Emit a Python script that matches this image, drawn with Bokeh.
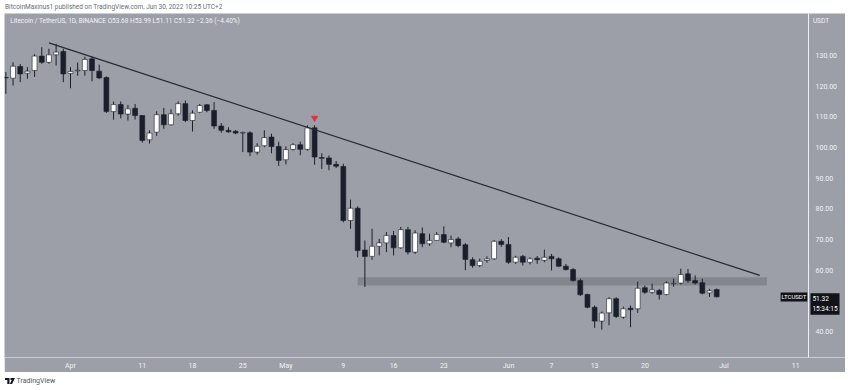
import pandas as pd
from bokeh.plotting import figure
from bokeh.models import ColumnDataSource, FixedTicker, NumeralTickFormatter, Label, Div, Range1d, Span
from bokeh.layouts import column
from bokeh.embed import file_html
from bokeh.resources import INLINE

# ---------------- data ----------------
first_day = "2022-03-23"
opens = [122.8, 122.6, 126.4, 124.2, 125.1, 129.8, 127.8, 130.2, 131.3, 124.1,
         125.0, 125.1, 128.9, 124.9, 122.8, 111.7, 114.0, 110.9, 112.8, 110.4,
         102.5, 105.0, 110.7, 107.4, 111.0, 114.3, 108.8, 111.5, 113.9, 112.1,
         107.0, 105.6, 105.3, 104.7, 104.8, 98.5, 100.6, 103.4, 100.3, 96.0,
         99.4, 100.9, 99.4, 106.4, 96.7, 96.6, 94.5, 93.8, 76.2, 80.2,
         66.6, 64.5, 67.8, 68.9, 71.3, 67.3, 73.2, 65.9, 71.9, 68.6,
         69.7, 71.6, 68.9, 70.2, 68.3, 63.4, 61.5, 63.2, 63.7, 69.4,
         68.4, 62.6, 64.5, 62.6, 63.9, 63.2, 64.5, 63.7, 61.3, 60.2,
         56.6, 52.1, 47.9, 43.4, 46.1, 50.7, 44.7, 47.6, 47.4, 54.3,
         52.8, 53.4, 52.1, 55.6, 55.8, 58.8, 56.6, 55.9, 52.6, 53.68]
highs = [124.6, 127.8, 127.2, 126.2, 130.4, 132.7, 132.2, 133.8, 132.2, 126.2,
         127.7, 129.6, 129.6, 127.0, 123.2, 115.0, 115.0, 113.9, 114.2, 110.5,
         105.6, 111.8, 112.9, 112.4, 115.0, 115.3, 112.1, 114.2, 114.2, 114.8,
         108.0, 106.6, 105.7, 105.2, 105.3, 101.4, 105.6, 104.5, 101.9, 100.4,
         101.4, 101.9, 107.2, 107.2, 98.1, 97.4, 95.6, 94.7, 83.0, 80.8,
         69.7, 73.5, 70.2, 72.4, 72.8, 74.1, 74.1, 73.0, 73.9, 71.9,
         72.4, 74.3, 71.3, 70.8, 68.8, 64.2, 63.8, 64.5, 69.8, 70.1,
         70.8, 64.7, 65.0, 64.2, 64.6, 66.7, 65.3, 64.2, 62.0, 60.7,
         57.2, 52.3, 48.5, 46.5, 51.2, 51.2, 48.1, 48.5, 56.3, 55.0,
         55.6, 53.9, 56.3, 57.2, 60.5, 60.4, 58.3, 57.2, 53.9, 53.99]
lows = [117.5, 120.2, 121.3, 122.4, 123.0, 127.3, 127.3, 126.7, 121.3, 119.3,
        123.4, 123.4, 121.6, 122.3, 111.3, 109.1, 109.5, 108.8, 109.1, 101.6,
        101.3, 103.8, 106.1, 107.2, 110.4, 108.3, 105.2, 111.2, 111.5, 106.1,
        104.8, 104.8, 104.3, 98.5, 97.2, 97.7, 100.1, 98.1, 94.0, 94.5,
        99.0, 97.5, 99.0, 94.4, 93.0, 92.6, 93.3, 75.6, 73.5, 64.2,
        54.5, 63.4, 64.8, 65.9, 64.8, 67.0, 65.1, 65.3, 67.5, 68.0,
        69.6, 68.8, 67.5, 67.5, 60.0, 60.8, 61.0, 62.4, 63.4, 67.6,
        62.1, 62.1, 61.5, 61.9, 62.1, 62.6, 59.9, 61.0, 59.9, 56.3,
        51.6, 47.6, 41.2, 40.6, 42.0, 44.4, 44.2, 41.4, 46.1, 52.3,
        52.3, 50.4, 51.8, 54.6, 55.3, 55.9, 55.3, 52.1, 51.3, 51.11]
closes = [122.7, 126.5, 124.0, 124.9, 129.8, 127.8, 130.2, 131.1, 124.0, 124.8,
          125.2, 128.7, 125.1, 122.7, 111.7, 114.0, 110.9, 112.6, 110.4, 102.3,
          104.7, 110.7, 107.4, 111.0, 114.3, 108.8, 111.2, 113.7, 112.1, 107.0,
          105.6, 105.1, 104.7, 104.9, 98.5, 100.4, 103.2, 100.3, 95.8, 99.3,
          100.9, 99.4, 106.4, 96.9, 96.5, 94.5, 93.9, 76.2, 80.2, 66.4,
          64.5, 67.8, 68.9, 71.3, 67.3, 73.2, 65.9, 72.1, 68.6, 69.7,
          71.6, 69.1, 70.0, 68.0, 63.5, 61.5, 62.9, 63.7, 69.4, 68.4,
          62.6, 64.2, 62.6, 63.7, 63.4, 64.2, 63.7, 61.3, 60.2, 56.6,
          52.0, 47.9, 43.4, 46.0, 50.7, 44.9, 47.4, 47.1, 54.1, 52.8,
          53.6, 52.1, 55.8, 55.7, 58.6, 56.6, 55.8, 52.5, 53.3, 51.32]

# resistance trend line (two anchor points) and support zone
trend_dates = ["2022-03-29", "2022-07-06"]
trend_prices = [134.1, 58.3]
zone_start, zone_end = "2022-05-11", "2022-07-07"
zone_low, zone_high = 55.0, 57.7
signal_date, signal_price = "2022-05-05", 109.6

price_ticks = [40, 60, 70, 80, 90, 100, 110, 120, 130]
time_tick_dates = ["2022-04-01", "2022-04-11", "2022-04-18", "2022-04-25", "2022-05-01",
                   "2022-05-09", "2022-05-16", "2022-05-23", "2022-06-01", "2022-06-07",
                   "2022-06-13", "2022-06-20", "2022-07-01", "2022-07-11"]
time_tick_labels = ["Apr", "11", "18", "25", "May", "9", "16", "23", "Jun", "7",
                    "13", "20", "Jul", "11"]

last_price = "51.32"
countdown = "15:34:15"
symbol = "LTCUSDT"
legend_text = "Litecoin / TetherUS, 1D, BINANCE   O53.68  H53.99  L51.11  C51.32  \u22122.36 (\u22124.40%)"
header_text = "BitcoinMaxinus1 published on TradingView.com, Jun 30, 2022 10:25 UTC+2"

# ---------------- helpers ----------------
ref = pd.Timestamp("2022-04-01")
def day(s):
    return (pd.Timestamp(s) - ref).days

dates = pd.date_range(first_day, periods=len(opens), freq="D")
xs = [(d - ref).days for d in dates]

BG = "#9c9fa7"
UP = "#ffffff"
DOWN = "#1b1f2c"
WICK = "#1b1f2c"
LBL = "#f1f2f5"
AXIS_X = 102.79   # day position of the price-scale separator

src = ColumnDataSource(dict(
    x=xs, high=highs, low=lows,
    top=[max(o, c) for o, c in zip(opens, closes)],
    bottom=[min(o, c) for o, c in zip(opens, closes)],
    color=[UP if c >= o else DOWN for o, c in zip(opens, closes)],
))

p = figure(frame_width=841, frame_height=344,
           x_range=Range1d(-9.19, 107.94), y_range=Range1d(31.53, 143.69),
           y_axis_location="right", output_backend="svg", toolbar_location=None,
           min_border_left=0, min_border_top=0, min_border_right=0, min_border_bottom=15,
           background_fill_color=BG, border_fill_color=BG, outline_line_color=None,
           margin=(0, 0, 0, 4))
p.grid.visible = False

# support zone
p.quad(left=[day(zone_start)], right=[day(zone_end)], bottom=[zone_low], top=[zone_high],
       fill_color="#74777f", fill_alpha=0.6, line_color=None)

# candles
p.segment(x0="x", y0="high", x1="x", y1="low", source=src, color=WICK, line_width=1)
p.vbar(x="x", width=0.68, top="top", bottom="bottom", source=src,
       fill_color="color", line_color=WICK, line_width=0.6)

# trend line
p.line([day(d) for d in trend_dates], trend_prices, color="#262a35", line_width=1.2)

# signal marker
p.scatter([day(signal_date)], [signal_price], marker="inverted_triangle", size=6,
          color="#e0343a")

# price-scale separator
p.add_layout(Span(location=AXIS_X, dimension="height", line_color="#eef0f3", line_width=1))

# axes
yax = p.yaxis[0]
yax.fixed_location = AXIS_X
yax.ticker = FixedTicker(ticks=price_ticks)
yax.formatter = NumeralTickFormatter(format="0.00")
yax.major_label_text_font_size = "7px"
yax.major_label_text_color = LBL
yax.major_label_text_font = "Roboto"
yax.major_tick_line_color = None
yax.minor_tick_line_color = None
yax.major_tick_out = 0
yax.major_tick_in = 0
yax.minor_tick_out = 0
yax.minor_tick_in = 0
yax.axis_line_color = "#eef0f3"
yax.major_label_standoff = 7

xax = p.xaxis[0]
xax.ticker = FixedTicker(ticks=[day(d) for d in time_tick_dates])
xax.major_label_overrides = {day(d): l for d, l in zip(time_tick_dates, time_tick_labels)}
xax.major_label_text_font_size = "7px"
xax.major_label_text_color = LBL
xax.major_label_text_font = "Roboto"
xax.major_tick_line_color = None
xax.minor_tick_line_color = None
xax.major_tick_out = 0
xax.major_tick_in = 0
xax.minor_tick_out = 0
xax.minor_tick_in = 0
xax.axis_line_color = "#c9ccd3"
xax.major_label_standoff = 4

# texts
p.add_layout(Label(x=-8.4, y=141.4, text=legend_text, text_font_size="6.5px",
                   text_color="#f2f3f6", text_font="Roboto", text_baseline="middle"))
p.add_layout(Label(x=103.4, y=141.4, text="USDT", text_font_size="6.5px",
                   text_color=LBL, text_font="Roboto", text_baseline="middle"))
p.add_layout(Label(x=98.9, y=52.75, text=symbol, text_font_size="6px",
                   text_color="white", text_font="Roboto", text_baseline="top",
                   background_fill_color="#111318", padding=1))
p.add_layout(Label(x=103.06, y=52.5, text=last_price + "\n" + countdown, text_font_size="6.5px",
                   text_color="white", text_font="Roboto", text_baseline="top",
                   background_fill_color="#111318", padding=2))

header = Div(text=header_text, width=845, height=13, margin=(0, 0, 0, 0),
             styles={"font-size": "6.5px", "color": "#6a6d78", "font-family": "Roboto",
                     "line-height": "14px", "padding-left": "5px", "background": "white",
                     "white-space": "nowrap", "box-sizing": "border-box"})
logo = ('<svg width="10" height="6" style="vertical-align:middle">'
        '<path d="M0 0h4.5v6h-2.2v-4h-2.3z M5.5 0h4.5l-3 6h-2.2l2-4h-1.3z" fill="#131722"/></svg>')
footer = Div(text=logo + ' TradingView', width=845, height=18, margin=(0, 0, 0, 0),
             styles={"font-size": "7px", "color": "#50535e", "font-family": "Roboto",
                     "line-height": "19px", "padding-left": "5px", "background": "white",
                     "white-space": "nowrap", "box-sizing": "border-box"})

layout = column(header, p, footer, spacing=0)
open("out.html", "w").write(file_html(layout, INLINE))
